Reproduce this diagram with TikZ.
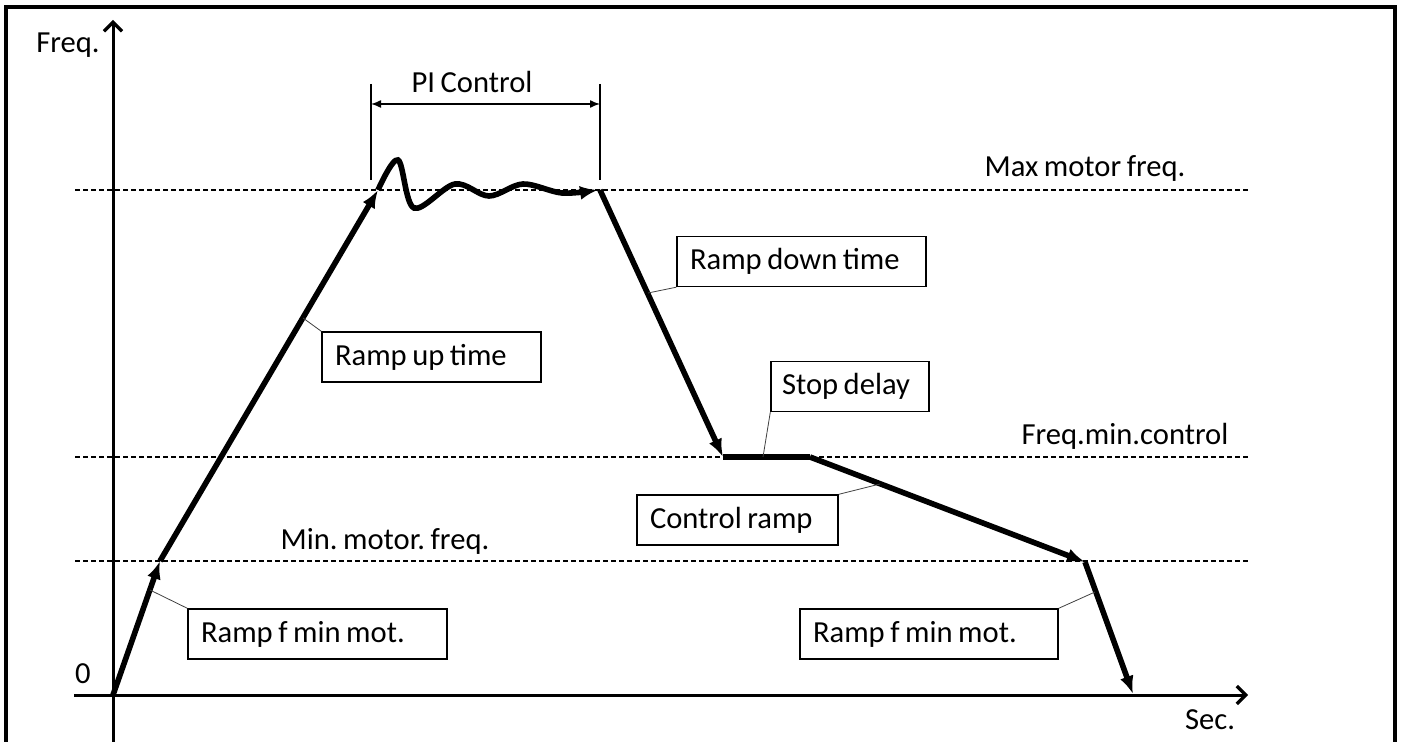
\documentclass[tikz,border=0pt]{standalone}
\usepackage{fontspec}
\setmainfont[WordSpace=0.8]{Carlito}
\usetikzlibrary{arrows.meta}
\begin{document}
\begin{tikzpicture}[x=0.5pt,y=-0.5pt,
  lbl/.style={font=\fontsize{15.3}{18}\selectfont\frenchspacing, inner sep=0pt},
  lbox/.style={draw, line width=0.7pt, font=\fontsize{15.3}{18}\selectfont\frenchspacing, align=flush left, inner xsep=6.5pt, inner ysep=0pt, minimum height=25pt},
  curve/.style={line width=2.8pt, -{Latex[length=9pt,width=7pt]}},
  guide/.style={dash pattern=on 2.5pt off 1.5pt, line width=0.6pt},
  leader/.style={line width=0.4pt, draw=black!75},
  axis/.style={line width=1.5pt},
  axarrow/.style={-{Straight Barb[length=4.5pt,width=9pt,line width=1.6pt]}},
  pidim/.style={line width=0.7pt},
]
\useasboundingbox (0,0) rectangle (1402,742);
% frame
\draw[line width=2pt] (6,760) -- (6,7) -- (1395,7) -- (1395,760);
% guides
\coordinate (gmaxl) at (75,190); \coordinate (gmaxr) at (1250,190);
\coordinate (gctl) at (75,457); \coordinate (gctr) at (1250,457);
\coordinate (gminl) at (75,561); \coordinate (gminr) at (1250,561);
\draw[guide] (gmaxl) -- (gmaxr);
\draw[guide] (gctl) -- (gctr);
\draw[guide] (gminl) -- (gminr);
% axes
\coordinate (O) at (113,695);
\coordinate (ytop) at (113,20);
\coordinate (ybot) at (113,750);
\coordinate (xl) at (74,695);
\coordinate (xr) at (1248,695);
\draw[axis, axarrow] (ybot) -- (ytop);
\draw[axis, axarrow] (xl) -- (xr);
\node[lbl] (freq) at (68,45) {Freq.};
\node[lbl] (zero) at (83,674) {0};
\node[lbl] (sec) at (1210,720) {Sec.};
\node[lbl] (maxf) at (1085,168) {Max motor freq.};
\node[lbl] (fminc) at (1125,436) {Freq.min.control};
\node[lbl] (minf) at (385,541) {Min. motor. freq.};
% curve points
\coordinate (P1) at (160,561);
\coordinate (P2) at (378,190);
\coordinate (P3) at (600,190);
\coordinate (P4) at (723,457);
\coordinate (P5) at (810,457);
\coordinate (P6) at (1085,562);
\coordinate (P7) at (1133,694);
\draw[curve] (O) -- (P1);
\draw[curve] (P1) -- (P2);
\draw[curve] plot[smooth, tension=0.55] coordinates {(378,190) (398,160) (414,208) (455,184) (489,196) (523,184) (562,193) (598,190)};
\draw[curve] (P3) -- (P4);
\draw[line width=2.8pt] (P4) -- (P5);
\draw[curve] (P5) -- (P6);
\draw[curve] (P6) -- (P7);
% PI control
\coordinate (pilt) at (371,84); \coordinate (pilb) at (371,180);
\coordinate (pirt) at (600,84); \coordinate (pirb) at (600,180);
\coordinate (pia) at (371,104); \coordinate (pib) at (600,104);
\draw[pidim] (pilt) -- (pilb);
\draw[pidim] (pirt) -- (pirb);
\draw[pidim, {Latex[length=5pt,width=4pt]}-{Latex[length=5pt,width=4pt]}] (pia) -- (pib);
\node[lbl] (pic) at (472,82) {PI Control};
% label boxes
\node[lbox, text width=96.5pt] (rampup) at (431.5,357) {Ramp up time};
\node[lbox, text width=111.5pt] (rampdown) at (801.5,261.5) {Ramp down time};
\node[lbox, text width=68pt, inner xsep=5.5pt] (stopd) at (850,386.5) {Stop delay};
\node[lbox, text width=87.5pt] (ctrlr) at (737.5,520) {Control ramp};
\node[lbox, text width=116.5pt] (rfm1) at (317.5,634) {Ramp f min mot.};
\node[lbox, text width=116pt] (rfm2) at (929,634) {Ramp f min mot.};
% leaders
\coordinate (lu) at (303,318);
\coordinate (ld) at (648,293);
\coordinate (ls) at (763,457);
\coordinate (lc) at (880,484);
\coordinate (l1) at (150,590);
\coordinate (l2) at (1095,592);
\draw[leader] (rampup.north west) -- (lu);
\draw[leader] (rampdown.south west) -- (ld);
\draw[leader] (stopd.south west) -- (ls);
\draw[leader] (ctrlr.north east) -- (lc);
\draw[leader] (rfm1.north west) -- (l1);
\draw[leader] (rfm2.north east) -- (l2);
\end{tikzpicture}
\end{document}
